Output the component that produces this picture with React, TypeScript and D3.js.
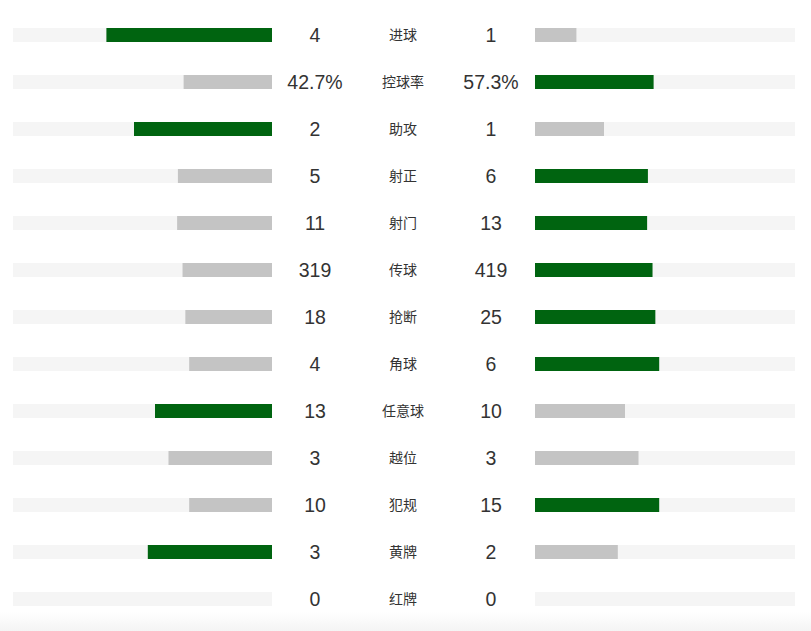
import React from "react";
import * as d3 from "d3";

const labels = ["进球", "控球率", "助攻", "射正", "射门", "传球", "抢断", "角球", "任意球", "越位", "犯规", "黄牌", "红牌"];
const homeValues = [4, 42.7, 2, 5, 11, 319, 18, 4, 13, 3, 10, 3, 0];
const awayValues = [1, 57.3, 1, 6, 13, 419, 25, 6, 10, 3, 15, 2, 0];
const percentRows = ["控球率"];

const W = 811;
const H = 631;
const GREEN = "#006410";
const GRAY = "#c4c4c4";
const TRACK = "#f5f5f5";

export default function App() {
  const y = d3.scalePoint<string>().domain(labels).range([35, 599]);
  const share = d3.scaleLinear().domain([0, 1]).range([0, 207]);
  const leftTrack = [13, 272];
  const rightTrack = [535, 795];
  const barH = 14;

  const fmt = (label: string, v: number) => (percentRows.includes(label) ? `${v}%` : `${v}`);

  return (
    <svg width={W} height={H} style={{ position: "absolute", left: 0, top: 0 }}>
      <defs>
        <linearGradient id="fade" x1="0" y1="0" x2="0" y2="1">
          <stop offset="0" stopColor="#ffffff" />
          <stop offset="1" stopColor="#f4f4f4" />
        </linearGradient>
      </defs>
      <rect x={0} y={0} width={W} height={H} fill="#fff" />
      <rect x={0} y={612} width={W} height={19} fill="url(#fade)" />
      {labels.map((label, i) => {
        const a = homeValues[i];
        const b = awayValues[i];
        const tot = a + b;
        const la = tot > 0 ? share(a / tot) : 0;
        const lb = tot > 0 ? share(b / tot) : 0;
        const cy = y(label)!;
        const ca = a > b ? GREEN : GRAY;
        const cb = b > a ? GREEN : GRAY;
        return (
          <g key={label}>
            <rect x={leftTrack[0]} y={cy - barH / 2} width={leftTrack[1] - leftTrack[0]} height={barH} fill={TRACK} />
            <rect x={rightTrack[0]} y={cy - barH / 2} width={rightTrack[1] - rightTrack[0]} height={barH} fill={TRACK} />
            {la > 0 && <rect x={leftTrack[1] - la} y={cy - barH / 2} width={la} height={barH} fill={ca} />}
            {lb > 0 && <rect x={rightTrack[0]} y={cy - barH / 2} width={lb} height={barH} fill={cb} />}
            <text x={315} y={cy} textAnchor="middle" dominantBaseline="central" fontFamily="'Liberation Sans', Arial, sans-serif" fontSize={19.5} fill="#333">
              {fmt(label, a)}
            </text>
            <text x={491} y={cy} textAnchor="middle" dominantBaseline="central" fontFamily="'Liberation Sans', Arial, sans-serif" fontSize={19.5} fill="#333">
              {fmt(label, b)}
            </text>
            <text x={403} y={cy - 1} textAnchor="middle" dominantBaseline="central" fontFamily="'Noto Sans CJK SC', sans-serif" fontSize={14} fill="#333">
              {label}
            </text>
          </g>
        );
      })}
    </svg>
  );
}
